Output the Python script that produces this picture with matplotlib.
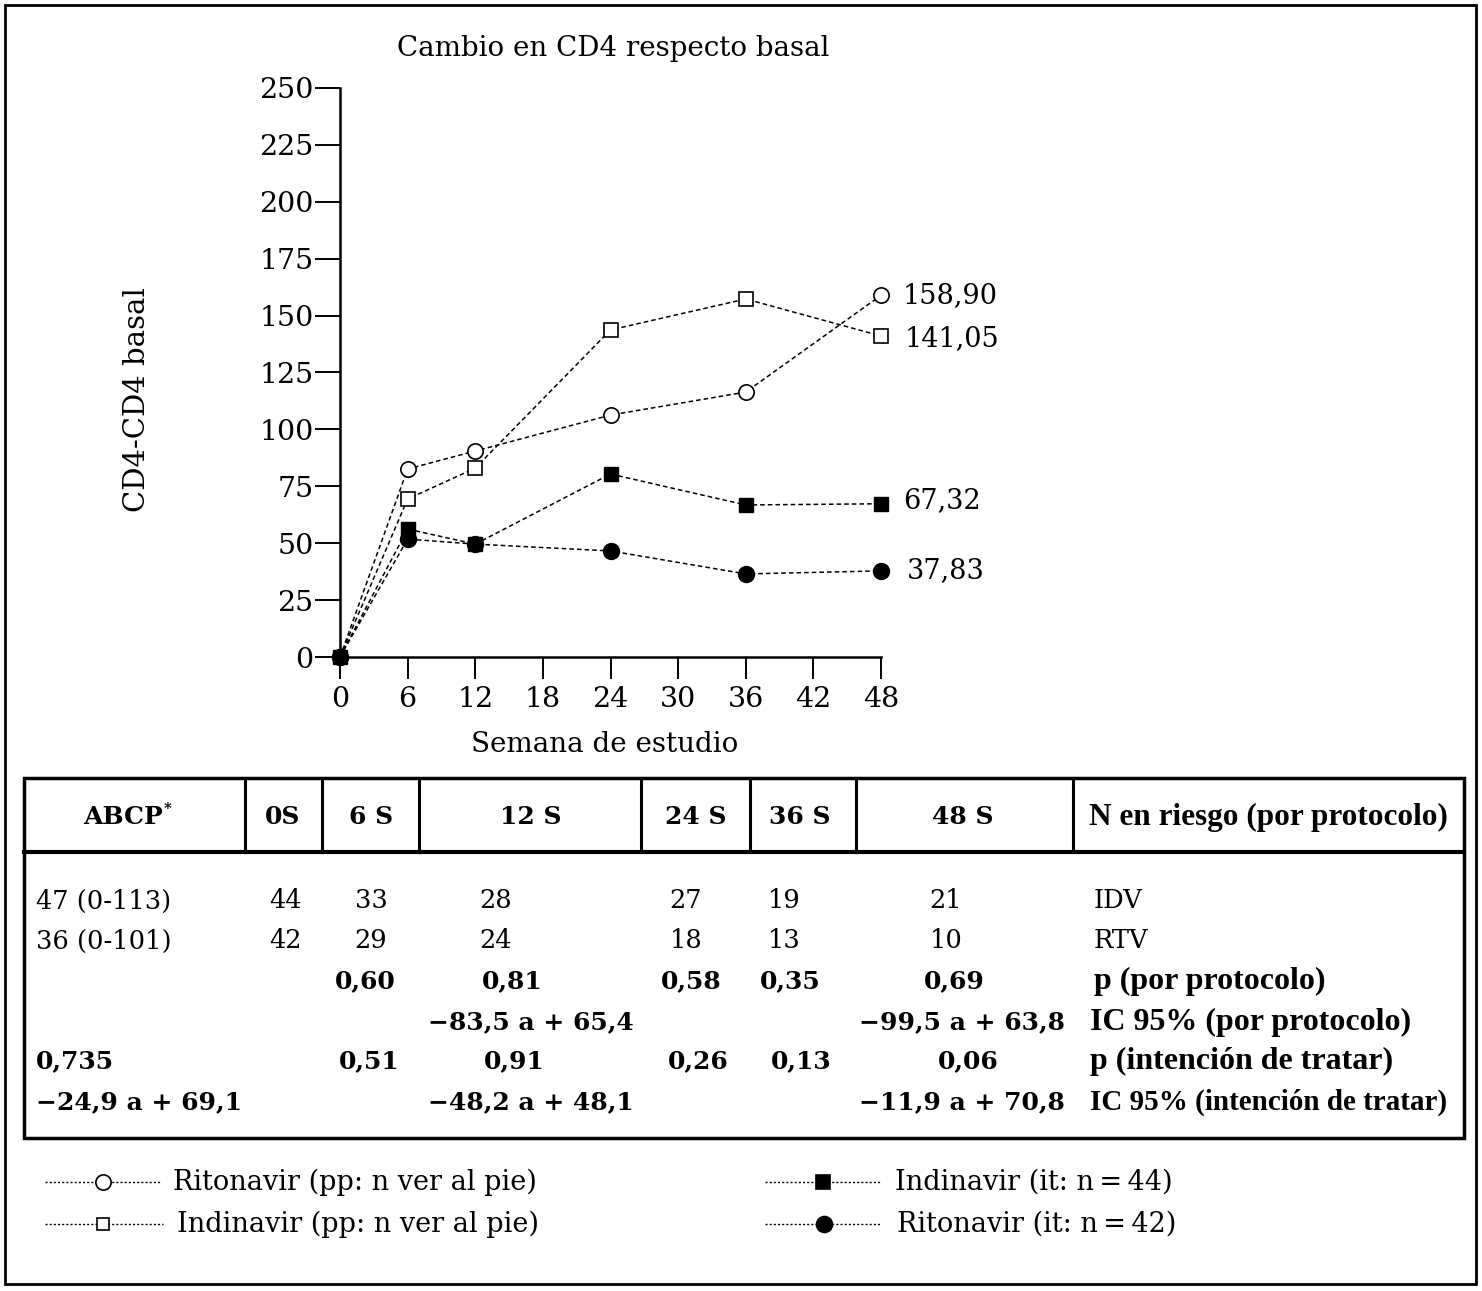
import numpy as np
import matplotlib
matplotlib.use('Agg')
import matplotlib.pyplot as plt
from matplotlib.patches import Rectangle

plt.rcParams['font.family'] = ['DejaVu Serif']

# Chart data (semanas / cambio en CD4)
semanas = [0, 6, 12, 24, 36, 48]
rtv_pp = [0, 82.6, 90.5, 106.3, 116.4, 158.90]
idv_pp = [0, 69.4, 83.0, 143.7, 157.3, 141.05]
idv_it = [0, 56.2, 49.6, 80.4, 66.8, 67.32]
rtv_it = [0, 51.8, 49.6, 46.6, 36.5, 37.83]
etiquetas_fin = ['158,90', '141,05', '67,32', '37,83']

# Table data
cabecera = ['0S', '6 S', '12 S', '24 S', '36 S', '48 S']
fila_idv = ['44', '33', '28', '27', '19', '21']
fila_rtv = ['42', '29', '24', '18', '13', '10']
p_pp = ['0,60', '0,81', '0,58', '0,35', '0,69']
ic_pp = ['\u221283,5 a + 65,4', '\u221299,5 a + 63,8']
p_itt = ['0,51', '0,91', '0,26', '0,13', '0,06']
ic_itt = ['\u221248,2 a + 48,1', '\u221211,9 a + 70,8']

W, H = 1482, 1291
fig = plt.figure(figsize=(W / 100, H / 100), dpi=100)

# overlay axes in pixel coordinates for border, table and legend
bg = fig.add_axes([0, 0, 1, 1])
bg.set_xlim(0, W)
bg.set_ylim(H, 0)
bg.axis('off')

bg.add_patch(Rectangle((5, 5), 1471, 1279, fill=False, lw=2, ec='black'))

# plot
ax = fig.add_axes([340 / W, 1 - 657 / H, 541 / W, 569 / H])
ls = (0, (3, 2))
ax.plot(semanas, rtv_pp, color='black', ls=ls, lw=1.1, marker='o', ms=11,
        mfc='white', mec='black', mew=1.2, clip_on=False, zorder=3)
ax.plot(semanas[1:], idv_pp[1:], color='black', ls='none', marker='s', ms=9.5,
        mfc='white', mec='black', mew=1.2, clip_on=False, zorder=4)
ax.plot(semanas, idv_pp, color='black', ls=ls, lw=1.1, clip_on=False, zorder=2)
ax.plot(semanas, idv_it, color='black', ls=ls, lw=1.1, marker='s', ms=10,
        mfc='black', mec='black', clip_on=False, zorder=5)
ax.plot(semanas, rtv_it, color='black', ls=ls, lw=1.1, marker='o', ms=11.5,
        mfc='black', mec='black', clip_on=False, zorder=5)

offs = [(22, 0), (24, -3), (22, 3), (26, 0)]
for serie, lab, off in zip([rtv_pp, idv_pp, idv_it, rtv_it], etiquetas_fin, offs):
    ax.annotate(lab, (48, serie[-1]), xytext=off, textcoords='offset pixels',
                ha='left', va='center', fontsize=19.5)

ax.set_xlim(0, 48)
ax.set_ylim(0, 250)
ax.set_xticks(np.arange(0, 49, 6))
ax.set_yticks(np.arange(0, 251, 25))
ax.spines['top'].set_visible(False)
ax.spines['right'].set_visible(False)
for s in ['left', 'bottom']:
    ax.spines[s].set_linewidth(1.8)
ax.tick_params(axis='y', direction='out', length=18, width=1.4, labelsize=20.5, pad=1)
ax.tick_params(axis='x', direction='out', length=16, width=1.4, labelsize=20.5, pad=5)
ax.patch.set_alpha(0)

bg.text(613, 48, 'Cambio en CD4 respecto basal', ha='center', va='center', fontsize=20)
bg.text(137, 400, 'CD4-CD4 basal', ha='center', va='center', rotation=90, fontsize=21)
bg.text(605, 745, 'Semana de estudio', ha='center', va='center', fontsize=20)

# table
bg.add_patch(Rectangle((24, 778), 1440, 360, fill=False, lw=2.5, ec='black'))
bg.plot([24, 1464], [852, 852], color='black', lw=3)
for xv in [245, 322, 419, 641, 750, 856, 1073]:
    bg.plot([xv, xv], [778, 852], color='black', lw=2.2)

num = dict(va='center', fontsize=18, fontweight='bold')
pal = dict(va='center', fontweight='bold', family='Liberation Serif')
hy = 817
bg.text(163, hy, 'ABCP', ha='right', **num)
bg.text(164, hy - 8, '*', ha='left', va='center', fontsize=11, fontweight='bold')
for txt, xc in zip(cabecera, [283, 371, 531, 696, 800, 963]):
    bg.text(xc, hy, txt, ha='center', **num)
bg.text(1268, hy, 'N en riesgo (por protocolo)', ha='center', fontsize=22.5, **pal)

ys = [901, 941, 981, 1022, 1061, 1102]
n_x = [285, 371, 496, 686, 784, 946]
norm = dict(va='center', fontsize=18.5)
bg.text(36, ys[0], '47 (0-113)', ha='left', **norm)
bg.text(36, ys[1], '36 (0-101)', ha='left', **norm)
for v1, v2, xc in zip(fila_idv, fila_rtv, n_x):
    bg.text(xc, ys[0], v1, ha='center', **norm)
    bg.text(xc, ys[1], v2, ha='center', **norm)
bg.text(1094, ys[0], 'IDV', ha='left', **norm)
bg.text(1094, ys[1], 'RTV', ha='left', **norm)

for v, xc in zip(p_pp, [365, 512, 691, 790, 954]):
    bg.text(xc, ys[2], v, ha='center', **num)
bg.text(1094, ys[2], 'p (por protocolo)', ha='left', fontsize=23, **pal)
for v, xc in zip(ic_pp, [531, 962]):
    bg.text(xc, ys[3], v, ha='center', **num)
bg.text(1090, ys[3], 'IC 95% (por protocolo)', ha='left', fontsize=23, **pal)
bg.text(36, ys[4], '0,735', ha='left', **num)
for v, xc in zip(p_itt, [369, 514, 698, 801, 968]):
    bg.text(xc, ys[4], v, ha='center', **num)
bg.text(1090, ys[4], 'p (intención de tratar)', ha='left', fontsize=23, **pal)
bg.text(36, ys[5], '\u221224,9 a + 69,1', ha='left', **num)
for v, xc in zip(ic_itt, [531, 962]):
    bg.text(xc, ys[5], v, ha='center', **num)
bg.text(1090, ys[5], 'IC 95% (intención de tratar)', ha='left', fontsize=21, **pal)

# legend
leg = [
    (45, 160, 103, 1182, 'o', 'white', 11, 'Ritonavir (pp: n ver al pie)', 173),
    (45, 163, 103, 1224, 's', 'white', 9, 'Indinavir (pp: n ver al pie)', 177),
    (765, 880, 823, 1182, 's', 'black', 10, 'Indinavir (it: n\u2009=\u200944)', 895),
    (765, 880, 824, 1224, 'o', 'black', 11.5, 'Ritonavir (it: n\u2009=\u200942)', 897),
]
for x0, x1, xm, yl, mk, fc, ms, lab, xt in leg:
    bg.plot([x0, x1], [yl, yl], color='black', lw=1, ls=(0, (1.5, 1.5)))
    bg.plot([xm], [yl], marker=mk, ms=ms, mfc=fc, mec='black', mew=1.2, ls='none')
    bg.text(xt, yl, lab, ha='left', va='center', fontsize=19.5)

fig.savefig('out.png', dpi=100)
